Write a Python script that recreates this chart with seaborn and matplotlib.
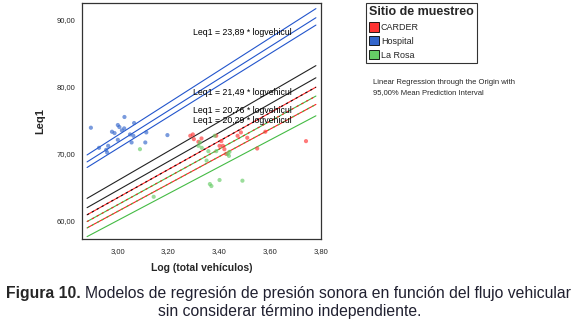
import numpy as np
import pandas as pd
import matplotlib
matplotlib.use("Agg")
import matplotlib.pyplot as plt
import seaborn as sns
from matplotlib.patches import Patch

sns.set_style("white")
plt.rcParams['font.family'] = ['Liberation Sans', 'DejaVu Sans']

# ---- data ----
sites = ["CARDER", "Hospital", "La Rosa"]
site_colors = ["#ff3333", "#3366cc", "#66cc66"]

hosp_x = [2.895, 3.027, 3.001, 3.007, 2.978, 2.988, 3.017, 3.026, 3.065, 3.049,
          3.062, 3.001, 2.963, 2.955, 2.927, 3.113, 3.109, 3.196, 3.055, 2.959]
hosp_y = [73.9, 75.5, 74.3, 74.0, 73.3, 73.1, 73.5, 73.8, 74.6, 72.9,
          72.7, 72.1, 71.2, 70.6, 70.9, 73.2, 71.7, 72.8, 71.7, 70.2]

carder_x = [3.286, 3.296, 3.300, 3.388, 3.408, 3.414, 3.420, 3.427, 3.401, 3.510,
            3.581, 3.549, 3.741, 3.485, 3.472, 3.330, 3.318]
carder_y = [72.7, 72.9, 72.2, 72.7, 71.9, 71.2, 70.7, 70.0, 71.2, 72.4,
            73.3, 70.8, 71.9, 73.2, 72.7, 72.3, 71.8]

larosa_x = [3.088, 3.318, 3.331, 3.324, 3.382, 3.357, 3.388, 3.433, 3.438, 3.350,
            3.369, 3.363, 3.401, 3.491, 3.142, 3.440]
larosa_y = [70.7, 71.2, 70.9, 71.7, 72.7, 70.4, 70.4, 70.0, 69.7, 69.0,
            65.2, 65.5, 66.1, 66.0, 63.6, 70.3]

# regression lines through origin (slope) and interval lines
line_slopes = [24.25, 23.89, 23.60, 22.00, 21.52, 21.15, 20.80, 20.47, 20.02]
line_colors = ["#2255cc", "#2255cc", "#2255cc", "#222222", "#222222",
               "#ff2222", "#44bb44", "#ff2222", "#44bb44"]
line_overlay = [None, None, None, None, None, "#111111", "#ff2222", "#44bb44", None]
line_x_range = [2.88, 3.78]

fit_labels = ["Leq1 = 23,89 * logvehicul", "Leq1 = 21,49 * logvehicul",
              "Leq1 = 20,76 * logvehicul", "Leq1 = 20,29 * logvehicul"]

x_ticks = [3.0, 3.2, 3.4, 3.6, 3.8]
x_ticklabels = ["3,00", "3,20", "3,40", "3,60", "3,80"]
y_ticks = [60, 70, 80, 90]
y_ticklabels = ["60,00", "70,00", "80,00", "90,00"]

caption_bold = "Figura 10."
caption_line1 = "Modelos de regresión de presión sonora en función del flujo vehicular"
caption_line2 = "sin considerar término independiente."

df = pd.DataFrame({
    "x": carder_x + hosp_x + larosa_x,
    "y": carder_y + hosp_y + larosa_y,
    "site": ["CARDER"] * len(carder_x) + ["Hospital"] * len(hosp_x) + ["La Rosa"] * len(larosa_x),
})

W, H = 579, 324
fig = plt.figure(figsize=(W / 100, H / 100), dpi=100)
ax = fig.add_axes([0.1416, 0.2623, 0.4128, 0.7284])

xs = np.array(line_x_range)
for s, c, ov in zip(line_slopes, line_colors, line_overlay):
    sns.lineplot(x=xs, y=s * xs, color=c, lw=0.8, ax=ax, legend=False)
    if ov is not None:
        ax.plot(xs, s * xs, color=ov, lw=0.8, dashes=(2, 3))

sns.scatterplot(data=df, x="x", y="y", hue="site", hue_order=sites,
                palette=site_colors, s=9, alpha=0.65, linewidth=0,
                ax=ax, legend=False, zorder=3)

ax.set_xlim(2.86, 3.78)
ax.set_ylim(57.3, 92.5)
ax.set_xticks(x_ticks)
ax.set_xticklabels(x_ticklabels, fontsize=5.5)
ax.set_yticks(y_ticks)
ax.set_yticklabels(y_ticklabels, fontsize=5.5)
ax.tick_params(axis="both", direction="out", length=3, width=1, color="black", pad=2)
ax.tick_params(axis="x", pad=3.5)
for sp in ax.spines.values():
    sp.set_color("#333333")
    sp.set_linewidth(0.9)
ax.set_xlabel("Log (total vehículos)", fontsize=7.5, fontweight="bold", labelpad=6)
ax.set_ylabel("Leq1", fontsize=8, fontweight="bold", labelpad=8)

label_pos = [(0.464, 0.875), (0.464, 0.62), (0.464, 0.545), (0.464, 0.503)]
for t, (px, py) in zip(fit_labels, label_pos):
    ax.text(px, py, t, transform=ax.transAxes, fontsize=6.3, color="black",
            ha="left", va="center", zorder=4)

handles = [Patch(facecolor=c, edgecolor="black", linewidth=0.6, label=s)
           for s, c in zip(sites, site_colors)]
leg = fig.legend(handles=handles, title="Sitio de muestreo", loc="upper left",
                 bbox_to_anchor=(0.632, 0.99), borderaxespad=0.0,
                 frameon=True, fontsize=6.5,
                 handlelength=1.1, handleheight=1.2, handletextpad=0.2,
                 labelspacing=0.45, borderpad=0.35, fancybox=False,
                 alignment="left")
leg.get_title().set_fontweight("bold")
leg.get_title().set_fontsize(9)
leg.get_frame().set_edgecolor("black")
leg.get_frame().set_linewidth(0.8)

fig.text(0.645, 0.730, "Linear Regression through the Origin with\n95,00% Mean Prediction Interval",
         fontsize=5.5, ha="left", va="center", linespacing=1.45)

# caption: bold part followed by normal part, fitted to the width
cap_size = 10
fig.canvas.draw()
r = fig.canvas.get_renderer()
tb = fig.text(0, 0.095, caption_bold + " ", fontsize=cap_size, fontweight="bold",
              ha="left", va="center")
tn = fig.text(0, 0.095, caption_line1, fontsize=cap_size, ha="left", va="center",
              color="#202030")
wb = tb.get_window_extent(r).width
wn = tn.get_window_extent(r).width
target = 568.0
scale = target / (wb + wn)
tb.set_fontsize(cap_size * scale)
tn.set_fontsize(cap_size * scale)
wb *= scale
wn *= scale
x0 = (W - (wb + wn)) / 2
tb.set_x(x0 / W)
tn.set_x((x0 + wb) / W)
fig.text(0.5, 0.038, caption_line2, fontsize=cap_size * scale, ha="center",
         va="center", color="#202030")

fig.savefig("out.png", dpi=100)
